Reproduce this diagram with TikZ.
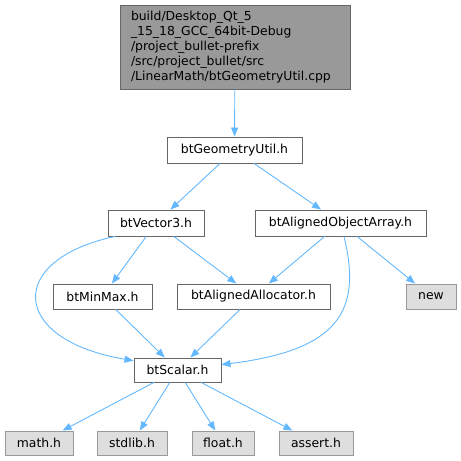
\documentclass[tikz,border=0pt]{standalone}
\usepackage{fontspec}
\setmainfont{DejaVu Sans}
\usepackage{xcolor}
\usetikzlibrary{arrows.meta}

\definecolor{edgeblue}{HTML}{63B8FF}
\definecolor{boxline}{HTML}{666666}
\definecolor{sysline}{HTML}{999999}
\definecolor{sysfill}{HTML}{DEDEDE}
\definecolor{topfill}{HTML}{999999}

\begin{document}
\begin{tikzpicture}[
  x=1pt, y=-1pt,
  base/.style={rectangle, inner sep=0pt, line width=0.9pt, font=\fontsize{12.4}{15}\selectfont},
  topfile/.style={base, draw=boxline, fill=topfill, align=left, text width=208pt, inner xsep=11pt, minimum height=84pt},
  hdr/.style={base, draw=boxline, fill=white, minimum height=26pt},
  sysinc/.style={base, draw=sysline, fill=sysfill, minimum height=24pt},
  arr/.style={-{Triangle[length=9pt, width=7pt]}, edgeblue, line width=0.9pt}
]
  \useasboundingbox (0,0) rectangle (461,461);

  % files of the project
  \node[topfile] (top) at (235,47) {build/Desktop\_Qt\_5\\\_15\_18\_GCC\_64bit-Debug\\/project\_bullet-prefix\\/src/project\_bullet/src\\/LinearMath/btGeometryUtil.cpp};
  \node[hdr, minimum width=135pt] (geom) at (234.5,150) {btGeometryUtil.h};
  \node[hdr, minimum width=96pt] (vec) at (156,223) {btVector3.h};
  \node[hdr, minimum width=171pt] (aoa) at (340.5,223) {btAlignedObjectArray.h};
  \node[hdr, minimum width=99pt, minimum height=25pt] (minmax) at (102.5,296.5) {btMinMax.h};
  \node[hdr, minimum width=153pt, minimum height=25pt] (alloc) at (253.5,296.5) {btAlignedAllocator.h};
  \node[hdr, minimum width=87pt, minimum height=24pt] (scalar) at (177.5,370) {btScalar.h};

  % system headers
  \node[sysinc, minimum width=50pt, minimum height=25pt] (new) at (431,296.5) {new};
  \node[sysinc, minimum width=68pt] (math) at (39,443) {math.h};
  \node[sysinc, minimum width=70pt] (stdlib) at (132,443) {stdlib.h};
  \node[sysinc, minimum width=62pt] (float) at (223,443) {float.h};
  \node[sysinc, minimum width=74pt] (assert) at (316,443) {assert.h};

  \draw[arr] (top) -- (geom);
  \draw[arr] (geom) -- (vec);
  \draw[arr] (geom) -- (aoa);
  \draw[arr] (vec) -- (minmax);
  \draw[arr] (vec) -- (alloc);
  \draw[arr] (aoa) -- (alloc);
  \draw[arr] (aoa) -- (new);
  \draw[arr] (minmax) -- (scalar);
  \draw[arr] (alloc) -- (scalar);
  \draw[arr] (scalar) -- (math);
  \draw[arr] (scalar) -- (stdlib);
  \draw[arr] (scalar) -- (float);
  \draw[arr] (scalar) -- (assert);

  % long includes going round
  \draw[arr] ([xshift=-41pt]vec.south) .. controls (5,260) and (10,340) .. (scalar.168);
  \draw[arr] ([xshift=3.5pt]aoa.south) .. controls (362,310) and (340,350) .. (scalar.7);
\end{tikzpicture}
\end{document}
